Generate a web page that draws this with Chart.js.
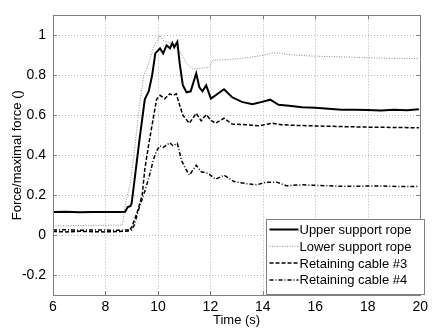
<!DOCTYPE html>
<html>
<head>
<meta charset="utf-8">
<script src="https://cdn.jsdelivr.net/npm/chart.js@4"></script>
<style>
  html, body { margin: 0; padding: 0; background: #fff; }
  #wrap { width: 432px; height: 330px; }
</style>
</head>
<body>
<div id="wrap"><canvas id="chart" width="432" height="330"></canvas></div>
<script>
// values (time in s, force / max force)
const upperT = [6, 6.5, 7, 7.5, 8, 8.5, 8.75, 8.85, 8.96, 9.0, 9.15, 9.3, 9.5, 9.65, 9.78, 9.9, 10.08, 10.2, 10.33, 10.46, 10.55, 10.62, 10.74, 10.83, 10.95, 11.09, 11.25, 11.46, 11.58, 11.7, 11.84, 12.02, 12.2, 12.52, 12.83, 13.2, 13.6, 13.97, 14.28, 14.6, 15.0, 15.5, 16, 16.5, 17, 17.5, 18, 18.5, 19, 19.5, 19.95];
const upperF = [0.115, 0.117, 0.114, 0.116, 0.115, 0.116, 0.117, 0.14, 0.146, 0.16, 0.32, 0.48, 0.68, 0.72, 0.80, 0.91, 0.935, 0.91, 0.95, 0.935, 0.962, 0.94, 0.967, 0.86, 0.75, 0.715, 0.72, 0.81, 0.74, 0.72, 0.75, 0.683, 0.70, 0.73, 0.69, 0.667, 0.655, 0.667, 0.678, 0.652, 0.648, 0.64, 0.637, 0.632, 0.628, 0.627, 0.626, 0.624, 0.627, 0.625, 0.63];

const lowerT = [6, 6.5, 7, 7.5, 8, 8.4, 8.65, 8.72, 8.8, 8.95, 9.1, 9.3, 9.46, 9.65, 9.83, 10.08, 10.2, 10.33, 10.58, 10.83, 11.09, 11.33, 11.55, 11.77, 11.96, 12.08, 12.4, 12.78, 13.4, 14.02, 14.38, 14.7, 15.13, 15.8, 16.5, 17.1, 17.77, 18.5, 19.2, 19.95];
const lowerF = [0.046, 0.047, 0.048, 0.047, 0.049, 0.05, 0.05, 0.12, 0.18, 0.26, 0.42, 0.65, 0.80, 0.86, 0.94, 1.0, 0.975, 0.967, 0.96, 0.92, 0.86, 0.83, 0.835, 0.837, 0.84, 0.875, 0.878, 0.88, 0.888, 0.90, 0.912, 0.91, 0.902, 0.897, 0.894, 0.892, 0.889, 0.886, 0.885, 0.883];

const cable3T = [6, 6.5, 7, 7.5, 8, 8.5, 8.9, 9.0, 9.2, 9.4, 9.5, 9.65, 9.83, 9.95, 10.08, 10.26, 10.45, 10.58, 10.7, 10.83, 10.95, 11.2, 11.46, 11.65, 11.84, 12.02, 12.2, 12.52, 12.83, 13.34, 13.84, 14.35, 14.7, 15.26, 16.5, 17.77, 19.0, 19.95];
const cable3F = [0.018, 0.016, 0.019, 0.017, 0.016, 0.018, 0.02, 0.04, 0.11, 0.2, 0.33, 0.455, 0.59, 0.68, 0.70, 0.683, 0.707, 0.70, 0.707, 0.65, 0.60, 0.56, 0.61, 0.572, 0.603, 0.575, 0.56, 0.585, 0.556, 0.553, 0.547, 0.56, 0.553, 0.549, 0.545, 0.541, 0.539, 0.537];

const cable4T = [6, 6.5, 7, 7.5, 8, 8.5, 9.0, 9.1, 9.27, 9.52, 9.7, 9.82, 9.95, 10.08, 10.2, 10.33, 10.45, 10.58, 10.74, 10.9, 11.02, 11.2, 11.46, 11.65, 11.9, 12.2, 12.52, 12.9, 13.4, 13.77, 14.15, 14.53, 14.9, 15.54, 16.2, 17.14, 18.4, 19.2, 19.95];
const cable4F = [0.025, 0.027, 0.024, 0.026, 0.025, 0.024, 0.026, 0.05, 0.13, 0.227, 0.309, 0.374, 0.422, 0.447, 0.439, 0.45, 0.463, 0.447, 0.459, 0.374, 0.341, 0.30, 0.35, 0.317, 0.31, 0.28, 0.30, 0.268, 0.257, 0.252, 0.265, 0.265, 0.247, 0.252, 0.248, 0.244, 0.246, 0.243, 0.244];

const seriesNames = ['Upper support rope', 'Lower support rope', 'Retaining cable #3', 'Retaining cable #4'];
const xTicks = [6, 8, 10, 12, 14, 16, 18, 20];
const yTicks = [-0.2, 0, 0.2, 0.4, 0.6, 0.8, 1];

const FONT = 'Liberation Sans, Arial, Helvetica, sans-serif';

function pts(ts, fs) {
  return ts.map((t, i) => ({ x: t, y: fs[i] }));
}

// dotted grid under the data, box + inner ticks + legend on top (MATLAB look)
const frame = {
  id: 'frame',
  beforeDatasetsDraw(chart) {
    const { ctx, chartArea: a, scales } = chart;
    ctx.save();
    ctx.strokeStyle = '#b4b4b4';
    ctx.lineWidth = 1;
    ctx.setLineDash([1, 2]);
    ctx.beginPath();
    xTicks.forEach(v => {
      const x = Math.round(scales.x.getPixelForValue(v)) + 0.5;
      ctx.moveTo(x, a.top); ctx.lineTo(x, a.bottom);
    });
    yTicks.forEach(v => {
      const y = Math.round(scales.y.getPixelForValue(v)) + 0.5;
      ctx.moveTo(a.left, y); ctx.lineTo(a.right, y);
    });
    ctx.stroke();
    ctx.restore();
  },
  afterDatasetsDraw(chart) {
    const { ctx, chartArea: a, scales } = chart;
    ctx.save();
    ctx.strokeStyle = '#7f7f7f';
    ctx.lineWidth = 1;
    ctx.setLineDash([]);
    ctx.beginPath();
    xTicks.forEach(v => {
      const x = Math.round(scales.x.getPixelForValue(v)) + 0.5;
      ctx.moveTo(x, a.bottom); ctx.lineTo(x, a.bottom - 4);
      ctx.moveTo(x, a.top); ctx.lineTo(x, a.top + 4);
    });
    yTicks.forEach(v => {
      const y = Math.round(scales.y.getPixelForValue(v)) + 0.5;
      ctx.moveTo(a.left, y); ctx.lineTo(a.left + 4, y);
      ctx.moveTo(a.right, y); ctx.lineTo(a.right - 4, y);
    });
    ctx.stroke();
    ctx.strokeRect(Math.round(a.left) + 0.5, Math.round(a.top) + 0.5,
      Math.round(a.right - a.left), Math.round(a.bottom - a.top));

    // legend in the lower right corner
    const bx = 266.5, by = 219.5, bw = 158, bh = 75;
    ctx.fillStyle = '#fff';
    ctx.fillRect(bx, by, bw, bh);
    ctx.strokeRect(bx, by, bw, bh);
    ctx.font = '13px ' + FONT;
    ctx.textBaseline = 'middle';
    ctx.fillStyle = '#000';
    chart.data.datasets.forEach((ds, i) => {
      const y = by + 10 + i * 16.8;
      ctx.beginPath();
      ctx.strokeStyle = ds.borderColor;
      ctx.lineWidth = ds.borderWidth;
      ctx.setLineDash(ds.borderDash || []);
      ctx.moveTo(bx + 3, y);
      ctx.lineTo(bx + 32, y);
      ctx.stroke();
      ctx.fillText(ds.label, bx + 33, y + 1);
    });
    ctx.restore();
  }
};

new Chart(document.getElementById('chart'), {
  type: 'line',
  data: {
    datasets: [
      { label: seriesNames[0], data: pts(upperT, upperF), borderColor: '#000', borderWidth: 2 },
      { label: seriesNames[1], data: pts(lowerT, lowerF), borderColor: '#8a8a8a', borderWidth: 1, borderDash: [1, 1.5] },
      { label: seriesNames[2], data: pts(cable3T, cable3F), borderColor: '#000', borderWidth: 1.5, borderDash: [4, 2] },
      { label: seriesNames[3], data: pts(cable4T, cable4F), borderColor: '#000', borderWidth: 1.5, borderDash: [4, 2, 1, 2] },
    ]
  },
  options: {
    responsive: false,
    animation: false,
    layout: { padding: { left: 0, right: 7, top: 7, bottom: 0 } },
    elements: { point: { radius: 0 }, line: { tension: 0, fill: false } },
    plugins: { legend: { display: false }, tooltip: { enabled: false } },
    scales: {
      x: {
        type: 'linear', min: 6, max: 20,
        afterBuildTicks: s => { s.ticks = xTicks.map(v => ({ value: v })); },
        afterFit: s => { s.height = 35; },
        grid: { display: false, drawTicks: false },
        border: { display: false },
        ticks: { padding: 4, color: '#000', font: { family: FONT, size: 14 }, maxRotation: 0 },
        title: { display: true, text: 'Time (s)', color: '#000', font: { family: FONT, size: 13 }, padding: { top: 0, bottom: 2 } }
      },
      y: {
        type: 'linear', min: -0.3, max: 1.1,
        afterBuildTicks: s => { s.ticks = yTicks.map(v => ({ value: v })); },
        afterFit: s => { s.width = 53; },
        grid: { display: false, drawTicks: false },
        border: { display: false },
        ticks: { padding: 7, color: '#000', font: { family: FONT, size: 14 },
          callback: v => String(Math.round(v * 10) / 10) },
        title: { display: true, text: 'Force/maximal force ()', color: '#000', font: { family: FONT, size: 13 }, padding: { top: 10, bottom: 0 } }
      }
    }
  },
  plugins: [frame]
});
</script>
</body>
</html>
